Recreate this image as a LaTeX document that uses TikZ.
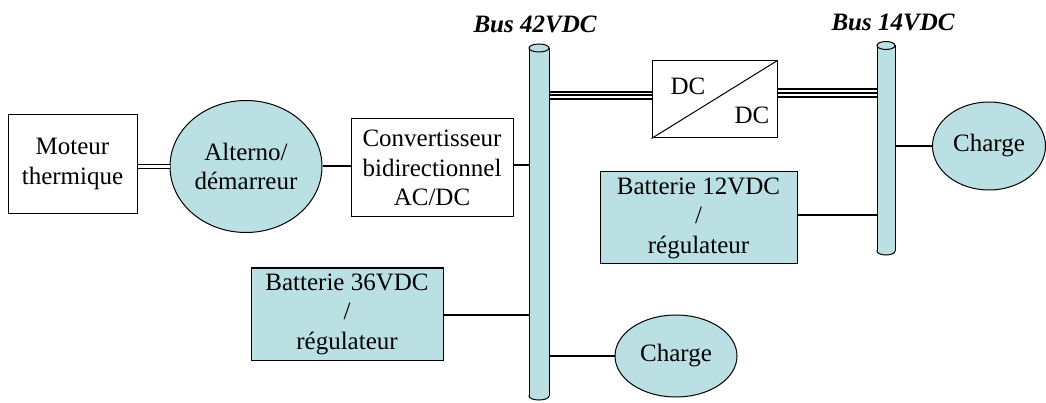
\documentclass[tikz,border=0pt]{standalone}
\usepackage{fontspec}
\setmainfont{Liberation Serif}
\usetikzlibrary{shapes.geometric,calc}
\definecolor{cyanfill}{RGB}{187,224,227}
\newcommand\mybusdraw[4]{% x center, y top cap center, y bottom cap center, half width
  \fill[cyanfill,draw=black,line width=1pt] (#1,#3) ellipse [x radius=#4pt, y radius=4pt];
  \fill[cyanfill] ($(#1,#2)+(-#4,0)$) rectangle ($(#1,#3)+(#4,0)$);
  \draw[line width=1pt] ($(#1,#2)+(-#4,0)$) -- ($(#1,#3)+(-#4,0)$);
  \draw[line width=1pt] ($(#1,#2)+(#4,0)$) -- ($(#1,#3)+(#4,0)$);
  \fill[cyanfill,draw=black,line width=1pt] (#1,#2) ellipse [x radius=#4pt, y radius=4pt];
}
\begin{document}
\begin{tikzpicture}[x=1pt,y=-1pt,
  every node/.style={font=\fontsize{25}{29.5}\selectfont, inner sep=0pt},
  box/.style={draw, line width=1pt, rectangle, align=center},
  fbox/.style={box, fill=cyanfill},
  oval/.style={draw, line width=1pt, ellipse, fill=cyanfill, align=center},
  buslabel/.style={font=\fontsize{25}{29.5}\selectfont\bfseries\itshape},
  thin/.style={line width=1.1pt},
  thick/.style={line width=2pt},
  dbl/.style={line width=5pt, postaction={draw=white, line width=2.2pt}},
  triple/.style={line width=9.5pt, postaction={draw=white, line width=5.5pt}, postaction={draw=black, line width=2pt}}
]
\useasboundingbox (0,0) rectangle (1046,403);

% buses (named invisible nodes + cylinder drawing)
\node[minimum width=20pt, minimum height=356pt] (bus42) at (539,222) {};
\node[minimum width=18pt, minimum height=213pt] (bus14) at (886,148.5) {};

\coordinate (m1) at (137,166.5);
\node[box, minimum width=129pt, minimum height=99pt] (moteur) at (72.5,164) {Moteur\\thermique};
\node[oval, minimum width=152pt, minimum height=132pt] (alterno) at (246,166.5) {Alterno/\\d\'emarreur};
\node[box, minimum width=162pt, minimum height=98pt] (conv) at (432,168) {Convertisseur\\bidirectionnel\\AC/DC};
\node[box, minimum width=125pt, minimum height=77pt] (dcdc) at (714.5,99.5) {};
\node at (688,86) {DC};
\node at (752,115) {DC};
\draw[line width=1pt] (dcdc.south west) -- (dcdc.north east);
\node[oval, minimum width=113pt, minimum height=88pt] (charge1) at (989,146) {Charge};
\node[fbox, minimum width=197pt, minimum height=92pt] (bat12) at (698.5,218) {Batterie 12VDC\\/\\r\'egulateur};
\node[fbox, minimum width=192pt, minimum height=92pt] (bat36) at (347,314) {Batterie 36VDC\\/\\r\'egulateur};
\node[oval, minimum width=122pt, minimum height=82pt] (charge2) at (676,356) {Charge};

\node[buslabel] (l42) at (535,24) {Bus 42VDC};
\node[buslabel] (l14) at (893,22) {Bus 14VDC};

\draw[dbl] (moteur.east |- m1) -- (alterno.west |- m1);
\draw[thick] (alterno.east |- 0,166.5) -- (conv.west |- 0,166.5);
\draw[thick] (conv.east |- 0,165) -- (bus42.west |- 0,165);
\draw[triple] (bus42.east |- 0,95.5) -- (dcdc.west |- 0,95.5);
\draw[triple] (dcdc.east |- 0,93) -- (bus14.west |- 0,93);
\draw[thin] (bus14.east |- charge1.west) -- (charge1.west);
\draw[thin] (bat12.east |- 0,215) -- (bus14.west |- 0,215);
\draw[line width=1.8pt] (bat36.east |- 0,315) -- (bus42.west |- 0,315);
\draw[thin] (bus42.east |- charge2.west) -- (charge2.west);

\mybusdraw{539}{48}{396}{10}
\mybusdraw{886}{45.5}{251}{9}
\end{tikzpicture}
\end{document}
